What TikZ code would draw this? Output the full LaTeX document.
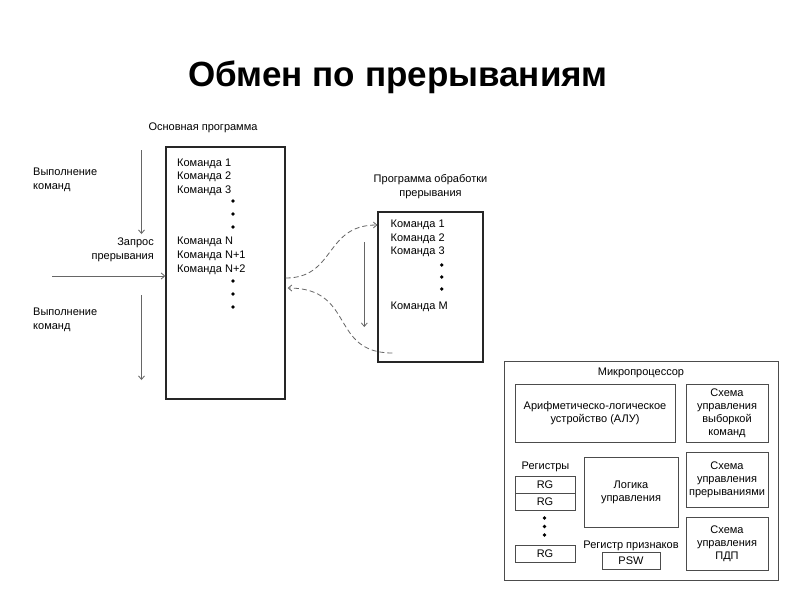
\documentclass[tikz,border=0pt]{standalone}
\usepackage{fontspec}
\setmainfont{Liberation Sans}
\usetikzlibrary{positioning,arrows.meta}
\begin{document}
\begin{tikzpicture}[x=1pt,y=-1pt]
   \tikzstyle{prog}=[draw=black!85,line width=1.4pt,inner sep=0pt]
   \tikzstyle{unit}=[draw=black!70,line width=0.8pt,inner sep=0pt,align=center,font=\fontsize{11}{13}\selectfont]
   \tikzstyle{cmd}=[anchor=base west,inner sep=0pt,font=\fontsize{11}{13}\selectfont]
   \tikzstyle{lbl}=[inner sep=0pt,font=\fontsize{11}{14}\selectfont]
   \tikzstyle{dot}=[circle,fill=black,inner sep=0pt,minimum size=3.6pt]
   \tikzstyle{arrow}=[draw=black!60,line width=0.8pt,-{Straight Barb[length=3.5pt,width=6pt]}]
   \tikzstyle{jump}=[arrow,dash pattern=on 5pt off 3pt]
   \useasboundingbox [fill=white] (0,0) rectangle (800,600) ;
   \node (title) [anchor=base,font=\fontsize{35}{40}\selectfont\bfseries] at (398,86.7) {Обмен по прерываниям} ;
   % main program
   \node (main) [prog,minimum width=119pt,minimum height=252pt] at (225.5,273) {} ;
   \node (mainlbl) [lbl] at (203,128) {Основная программа} ;
   \node (m1) [cmd] at (177,166) {Команда 1} ;
   \node (m2) [cmd] at (177,179.5) {Команда 2} ;
   \node (m3) [cmd] at (177,193) {Команда 3} ;
   \node (md1) [dot] at (233,201) {} ;
   \node (md2) [dot] at (233,214) {} ;
   \node (md3) [dot] at (233,227) {} ;
   \node (mn) [cmd] at (177,244.7) {Команда N} ;
   \node (mn1) [cmd] at (177,258.5) {Команда N+1} ;
   \node (mn2) [cmd] at (177,272) {Команда N+2} ;
   \node (md4) [dot] at (233,281) {} ;
   \node (md5) [dot] at (233,294) {} ;
   \node (md6) [dot] at (233,307) {} ;
   \node (exec1) [lbl,anchor=west,align=left] at (33,180) {Выполнение\\команд} ;
   \node (exec2) [lbl,anchor=west,align=left] at (33,320) {Выполнение\\команд} ;
   \node (reqlbl) [lbl,anchor=east,align=right] at (154,250) {Запрос\\прерывания} ;
   \coordinate (e1a) at (141.5,150) ;
   \coordinate (e1b) at (141.5,234) ;
   \coordinate (e2a) at (141.5,295) ;
   \coordinate (e2b) at (141.5,380) ;
   \coordinate (req) at (52,276) ;
   \path [arrow] (e1a) -- (e1b) ;
   \path [arrow] (e2a) -- (e2b) ;
   \path [arrow] (req) -- (req -| main.west) ;
   % interrupt handler
   \node (isr) [prog,line width=1.2pt,minimum width=105pt,minimum height=150pt] at (430.5,287) {} ;
   \node (isrlbl) [lbl,align=center,above=12pt of isr] {Программа обработки\\прерывания} ;
   \node (i1) [cmd] at (390.5,227) {Команда 1} ;
   \node (i2) [cmd] at (390.5,241) {Команда 2} ;
   \node (i3) [cmd] at (390.5,254) {Команда 3} ;
   \node (id1) [dot] at (441.7,265) {} ;
   \node (id2) [dot] at (441.7,277) {} ;
   \node (id3) [dot] at (441.7,289) {} ;
   \node (im) [cmd] at (390.5,309) {Команда M} ;
   \coordinate (e3a) at (364.3,242) ;
   \coordinate (e3b) at (364.3,327) ;
   \path [arrow] (e3a) -- (e3b) ;
   \coordinate (out) at ([yshift=-5pt]main.east) ;
   \coordinate (back) at ([xshift=2pt,yshift=-15pt]main.east) ;
   \coordinate (into) at ([yshift=62pt]isr.west) ;
   \coordinate (leave) at ([xshift=15pt,yshift=-66pt]isr.west) ;
   \path [jump] (out) .. controls +(50,0) and +(-53,0) .. (into) ;
   \path [jump] (leave) .. controls +(-63,0) and +(68,0) .. (back) ;
   % microprocessor
   \node (micro) [unit,minimum width=274pt,minimum height=219pt] at (641,470.5) {} ;
   \node (microlbl) [lbl,below=7pt of micro.north] {Микропроцессор} ;
   \node (alu) [unit,minimum width=160pt,minimum height=58pt] at (595,413) {Арифметическо-логическое\\устройство (АЛУ)} ;
   \node (fetch) [unit,minimum width=82pt,minimum height=58pt] at (727,413) {Схема\\управления\\выборкой\\команд} ;
   \node (irq) [unit,minimum width=82pt,minimum height=55pt] at (727,479.5) {Схема\\управления\\прерываниями} ;
   \node (dma) [unit,minimum width=82pt,minimum height=53pt] at (727,543.5) {Схема\\управления\\ПДП} ;
   \node (logic) [unit,minimum width=94pt,minimum height=70pt] at (631,492) {Логика\\управления} ;
   \node (reglbl) [lbl] at (545.5,467) {Регистры} ;
   \node (rg1) [unit,minimum width=60pt,minimum height=17pt] at (545,484.5) {RG} ;
   \node (rg2) [unit,minimum width=60pt,minimum height=17pt] at (545,501.5) {RG} ;
   \node (rd1) [dot] at (544.5,518) {} ;
   \node (rd2) [dot] at (544.5,526.5) {} ;
   \node (rd3) [dot] at (544.5,535) {} ;
   \node (rg3) [unit,minimum width=60pt,minimum height=17pt] at (545,553.5) {RG} ;
   \node (flagslbl) [lbl] at (631,546) {Регистр признаков} ;
   \node (psw) [unit,minimum width=58pt,minimum height=17pt] at (631,560.5) {PSW} ;
\end{tikzpicture}
\end{document}
